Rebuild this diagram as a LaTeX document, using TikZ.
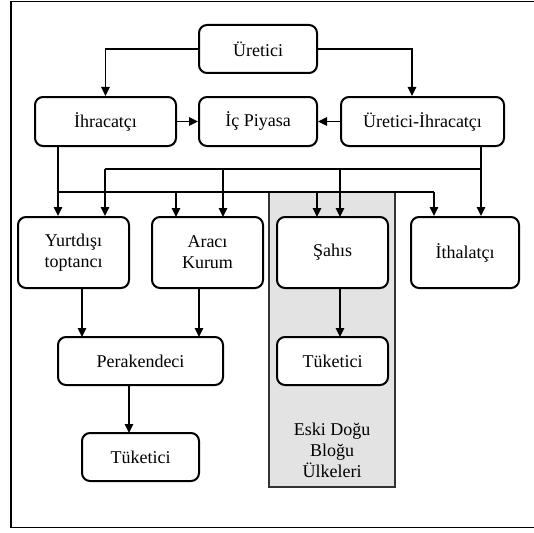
\documentclass[tikz,border=0pt]{standalone}
\usepackage{fontspec}
\setmainfont{Liberation Serif}
\usetikzlibrary{arrows.meta}
\begin{document}
\begin{tikzpicture}[x=1pt,y=-1pt,
  box/.style={draw,fill=white,line width=2pt,rounded corners=8pt,inner sep=0pt,align=center,font=\fontsize{18}{21}\selectfont},
  conn/.style={line width=1.6pt,-{Triangle[length=9pt,width=8.5pt]}},
  ln/.style={line width=1.6pt}]
\useasboundingbox (0,0) rectangle (534,532);
\draw[line width=1.8pt] (11,1.5) rectangle (545,527.5);
% gray band
\fill[gray!22] (269,192) rectangle (395,487);
\draw[line width=1.4pt,black!80] (269,192) -- (269,487) -- (395,487) -- (395,192);
% nodes
\node[box,minimum width=118pt,minimum height=48pt] (ur) at (258,49) {Üretici};
\node[box,minimum width=141pt,minimum height=49pt] (ih) at (105.5,121.5) {İhracatçı};
\node[box,minimum width=118pt,minimum height=49pt] (ic) at (258,121.5) {İç Piyasa};
\node[box,minimum width=163pt,minimum height=49pt] (ui) at (422.5,121.5) {Üretici-İhracatçı};
\node[box,minimum width=111pt,minimum height=71pt] (yt) at (73.5,252.5) {Yurtdışı\\toptancı};
\node[box,minimum width=111pt,minimum height=71pt] (ak) at (207.5,252.5) {Aracı\\Kurum};
\node[box,minimum width=111pt,minimum height=71pt] (sh) at (332.5,252.5) {Şahıs};
\node[box,minimum width=108pt,minimum height=71pt] (it) at (465,252.5) {İthalatçı};
\node[box,minimum width=165pt,minimum height=48pt] (pe) at (140.5,361) {Perakendeci};
\node[box,minimum width=117pt,minimum height=48pt] (tk1) at (140.5,457) {Tüketici};
\node[box,minimum width=111pt,minimum height=48pt] (tk2) at (332.5,361) {Tüketici};
\node[align=center,font=\fontsize{18}{21}\selectfont] (eski) at (332,450) {Eski Doğu\\Bloğu\\Ülkeleri};
% coordinates for bus lines
\coordinate (ihb) at (58,146);
\coordinate (uib) at (481,146);
\coordinate (b1l) at (58,192);
\coordinate (b1r) at (434,192);
\coordinate (b2l) at (105,169);
\coordinate (b2r) at (481,169);
% top connectors
\draw[conn] (ur.west) -| (ih.north);
\draw[conn] (ur.east) -| ([xshift=-10.5pt]ui.north);
\draw[conn] (ih.east) -- (ic.west);
\draw[conn] (ui.west) -- (ic.east);
% bus 1 from İhracatçı
\draw[ln] (ihb) -- (b1l) -- (b1r);
\draw[conn] (b1l) -- (b1l |- yt.north);
\draw[conn] (176,192) -- (176,217);
\draw[conn] (317,192) -- (317,217);
\draw[conn] (b1r) -- (b1r |- it.north);
% bus 2 from Üretici-İhracatçı
\draw[ln] (uib) -- (b2r) -- (b2l);
\draw[conn] (b2l) -- (b2l |- yt.north);
\draw[conn] (223,169) -- (223,217);
\draw[conn] (340,169) -- (340,217);
\draw[conn] (b2r) -- (b2r |- it.north);
% lower
\draw[conn] (82,288) -- (82,337);
\draw[conn] (199,288) -- (199,337);
\draw[conn] (129,385) -- (129,433);
\draw[conn] (340,288) -- (340,337);
\end{tikzpicture}
\end{document}
